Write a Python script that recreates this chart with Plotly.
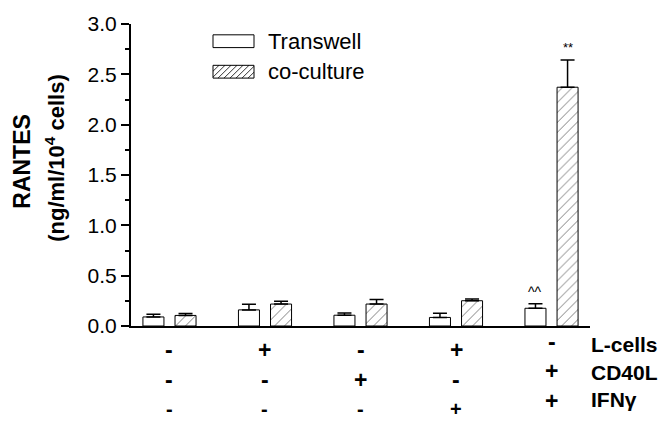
import plotly.graph_objects as go

# ---------------- data ----------------
groups = [0, 1, 2, 3, 4]
transwell = [0.09, 0.16, 0.107, 0.085, 0.176]
transwell_err = [0.027, 0.055, 0.023, 0.042, 0.046]
coculture = [0.105, 0.218, 0.218, 0.251, 2.372]
coculture_err = [0.019, 0.029, 0.046, 0.016, 0.27]
lcells = ["-", "+", "-", "+", "-"]
cd40l = ["-", "-", "+", "-", "+"]
ifng = ["-", "-", "-", "+", "+"]
row_labels = ["L-cells", "CD40L", "IFN\u03b3"]
y_ticks = [0, 0.5, 1.0, 1.5, 2.0, 2.5, 3.0]
series_names = ["Transwell", "co-culture"]

# ---------------- layout geometry ----------------
W, H = 658, 421
L, R, T, B = 131, 590, 19, 326
FONT = "Liberation Sans, Arial, sans-serif"
BARGAP = 0.328
BARGROUPGAP = 0.345
HALF = (1 - BARGAP) / 4  # offset of each bar centre from group centre


def px(xp):
    return (xp - L) / (R - L)


def py(yp):
    return (B - yp) / (B - T)


fig = go.Figure()
fig.add_trace(go.Bar(
    x=groups, y=transwell, name=series_names[0],
    marker=dict(color="white", line=dict(color="black", width=1)),
    error_y=dict(type="data", array=transwell_err, arrayminus=[0] * 5,
                 symmetric=False, color="black", thickness=1.5, width=7),
    showlegend=False,
))
fig.add_trace(go.Bar(
    x=groups, y=coculture, name=series_names[1],
    marker=dict(color="white", line=dict(color="black", width=1),
                pattern=dict(shape="/", fgcolor="black", bgcolor="white",
                             size=7, solidity=0.14)),
    error_y=dict(type="data", array=coculture_err, arrayminus=[0] * 5,
                 symmetric=False, color="black", thickness=1.5, width=7),
    showlegend=False,
))

annotations = []
shapes = []

# significance marks
annotations.append(dict(x=groups[4] + HALF, y=coculture[4] + coculture_err[4],
                        xref="x", yref="y", text="**", showarrow=False,
                        yanchor="bottom", yshift=3,
                        font=dict(family=FONT, size=13, color="black")))
annotations.append(dict(x=groups[4] - HALF, y=transwell[4] + transwell_err[4],
                        xref="x", yref="y", text="^^", showarrow=False,
                        yanchor="bottom", yshift=2,
                        font=dict(family=FONT, size=14, color="black")))

# condition rows under the axis
rows = [lcells, cd40l, ifng]
row_y_main = [350, 381, 410]
row_y_last = [342, 372, 402]
row_size = [23, 23, 20]
for r, vals in enumerate(rows):
    for g, v in zip(groups, vals):
        last = g == groups[-1]
        yy = row_y_last[r] if last else row_y_main[r]
        annotations.append(dict(x=g, y=py(yy), xref="x", yref="paper",
                                text="<b>%s</b>" % v, showarrow=False,
                                xanchor="center", yanchor="middle",
                                font=dict(family=FONT,
                                          size=23 if last else row_size[r],
                                          color="black")))
    annotations.append(dict(x=px(589), y=py([345, 373, 401][r]), xref="paper",
                            yref="paper", text="<b>%s</b>" % row_labels[r],
                            showarrow=False, xanchor="left", yanchor="middle",
                            font=dict(family=FONT, size=21, color="black")))

# y-axis title (two lines)
annotations.append(dict(x=px(22), y=py(159), xref="paper", yref="paper",
                        text="<b>RANTES</b>", textangle=-90, showarrow=False,
                        xanchor="center", yanchor="middle",
                        font=dict(family=FONT, size=23, color="black")))
annotations.append(dict(x=px(55), y=py(155), xref="paper", yref="paper",
                        text="<b>(ng/ml/10<sup>4</sup> cells)</b>", textangle=-90,
                        showarrow=False, xanchor="center", yanchor="middle",
                        font=dict(family=FONT, size=22, color="black")))

# legend (drawn manually)
bx0, bx1 = 213, 254
boxes = [(30, 43), (61, 74)]
for i, (yt, yb) in enumerate(boxes):
    shapes.append(dict(type="rect", xref="paper", yref="paper",
                       x0=px(bx0), x1=px(bx1), y0=py(yb), y1=py(yt),
                       line=dict(color="black", width=1), fillcolor="white"))
    annotations.append(dict(x=px(266), y=py((yt + yb) / 2), xref="paper",
                            yref="paper", text=series_names[i], showarrow=False,
                            xanchor="left", yanchor="middle",
                            font=dict(family=FONT, size=22, color="black")))
# hatch lines in the co-culture swatch
yt, yb = boxes[1]
hh = yb - yt
ww = bx1 - bx0
c = -hh
while c < ww:
    t0 = max(0, -c)
    t1 = min(hh, ww - c)
    if t1 > t0:
        shapes.append(dict(type="line", xref="paper", yref="paper",
                           x0=px(bx0 + c + t0), y0=py(yb - t0),
                           x1=px(bx0 + c + t1), y1=py(yb - t1),
                           line=dict(color="black", width=0.8)))
    c += 6

fig.update_layout(
    width=W, height=H,
    margin=dict(l=L, r=W - R, t=T, b=H - B, pad=0),
    paper_bgcolor="white", plot_bgcolor="white",
    barmode="group", bargap=BARGAP, bargroupgap=BARGROUPGAP,
    showlegend=False,
    font=dict(family=FONT, color="black"),
    annotations=annotations, shapes=shapes,
    xaxis=dict(range=[-0.403, 4.403], showticklabels=False, ticks="",
               showgrid=False, zeroline=False, showline=True,
               linecolor="black", linewidth=2),
    yaxis=dict(range=[0, 3], tickvals=y_ticks, tickformat=".1f",
               ticks="outside", ticklen=8, tickwidth=1.5, tickcolor="black",
               showgrid=False, zeroline=False, showline=True,
               linecolor="black", linewidth=2,
               tickfont=dict(family=FONT, size=21, color="black"),
               minor=dict(dtick=0.25, ticks="outside", ticklen=4,
                          tickwidth=1.5, tickcolor="black")),
)

fig.write_html(
    "out.html",
    config={"displayModeBar": False},
    post_script="document.body.style.margin='0px';document.body.style.overflow='hidden';",
)
